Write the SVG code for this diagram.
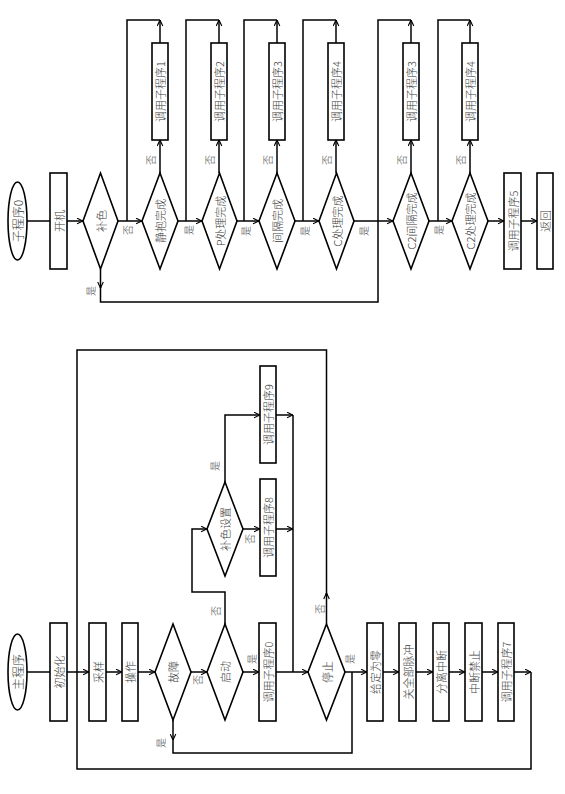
<svg xmlns="http://www.w3.org/2000/svg" width="565" height="794" viewBox="0 0 565 794">
<style>
.s{fill:#fff;stroke:#000;stroke-width:1.6}
.c{fill:none;stroke:#000;stroke-width:1.5}
.t{font-family:"Noto Sans CJK SC","Liberation Serif",sans-serif;font-size:11px;font-weight:300;fill:#3a3a3a;text-anchor:middle;dominant-baseline:central}
.e{font-size:12px}
.l{font-size:10px}
</style>
<defs>
<marker id="a" viewBox="0 0 10 10" refX="9.5" refY="5" markerWidth="7" markerHeight="7" markerUnits="userSpaceOnUse" orient="auto"><path d="M1,1 L9.5,5 L1,9" fill="none" stroke="#000" stroke-width="1.6"/></marker>
</defs>
<rect width="565" height="794" fill="#fff"/>

<g id="connectors">
<path class="c" d="M27,221 H50"/>
<path class="c" d="M67,221 H83" marker-end="url(#a)"/>
<path class="c" d="M118,221 H142" marker-end="url(#a)"/>
<path class="c" d="M178,221 H202" marker-end="url(#a)"/>
<path class="c" d="M237,221 H259" marker-end="url(#a)"/>
<path class="c" d="M295,221 H319" marker-end="url(#a)"/>
<path class="c" d="M354,221 H393" marker-end="url(#a)"/>
<path class="c" d="M429,221 H452" marker-end="url(#a)"/>
<path class="c" d="M488,221 H504" marker-end="url(#a)"/>
<path class="c" d="M521,221 H537" marker-end="url(#a)"/>
<path class="c" d="M160,173 V140" marker-end="url(#a)"/>
<path class="c" d="M160,43 V20" marker-end="url(#a)"/>
<path class="c" d="M127,221 V20 H160"/>
<path class="c" d="M219,173 V140" marker-end="url(#a)"/>
<path class="c" d="M219,43 V20" marker-end="url(#a)"/>
<path class="c" d="M186,221 V20 H219"/>
<path class="c" d="M277,173 V140" marker-end="url(#a)"/>
<path class="c" d="M277,43 V20" marker-end="url(#a)"/>
<path class="c" d="M244,221 V20 H277"/>
<path class="c" d="M336,173 V140" marker-end="url(#a)"/>
<path class="c" d="M336,43 V20" marker-end="url(#a)"/>
<path class="c" d="M303,221 V20 H336"/>
<path class="c" d="M411,173 V140" marker-end="url(#a)"/>
<path class="c" d="M411,43 V20" marker-end="url(#a)"/>
<path class="c" d="M470,173 V140" marker-end="url(#a)"/>
<path class="c" d="M470,43 V20" marker-end="url(#a)"/>
<path class="c" d="M438,221 V20 H470"/>
<path class="c" d="M100.5,269 V288" marker-end="url(#a)"/>
<path class="c" d="M100.5,287 V302 H378 V20 H411"/>
<path class="c" d="M27,672 H50"/>
<path class="c" d="M67,672 H89" marker-end="url(#a)"/>
<path class="c" d="M106,672 H122" marker-end="url(#a)"/>
<path class="c" d="M138,672 H155" marker-end="url(#a)"/>
<path class="c" d="M191,672 H207" marker-end="url(#a)"/>
<path class="c" d="M243,672 H259" marker-end="url(#a)"/>
<path class="c" d="M276,672 H308" marker-end="url(#a)"/>
<path class="c" d="M345,672 H367" marker-end="url(#a)"/>
<path class="c" d="M383,672 H399" marker-end="url(#a)"/>
<path class="c" d="M416,672 H433" marker-end="url(#a)"/>
<path class="c" d="M449,672 H465" marker-end="url(#a)"/>
<path class="c" d="M482,672 H498" marker-end="url(#a)"/>
<path class="c" d="M514,672 H531" marker-end="url(#a)"/>
<path class="c" d="M326.5,624 V593" marker-end="url(#a)"/>
<path class="c" d="M326.5,596 V350 H77 V769 H531 V672"/>
<path class="c" d="M173,720 V740" marker-end="url(#a)"/>
<path class="c" d="M173,738 V753 H352 V672"/>
<path class="c" d="M225,624 V592 H192 V529 H207" marker-end="url(#a)"/>
<path class="c" d="M225,482 V415 H260" marker-end="url(#a)"/>
<path class="c" d="M243,529 H260" marker-end="url(#a)"/>
<path class="c" d="M276,415 H293" marker-end="url(#a)"/>
<path class="c" d="M276,529 H293" marker-end="url(#a)"/>
<path class="c" d="M293,415 V672"/>
</g>

<g id="labels">
<text class="t l" transform="translate(90,291) rotate(-90)">是</text>
<text class="t l" transform="translate(127,230) rotate(-90)">否</text>
<text class="t l" transform="translate(188,230) rotate(-90)">是</text>
<text class="t l" transform="translate(245,231) rotate(-90)">是</text>
<text class="t l" transform="translate(304,231) rotate(-90)">是</text>
<text class="t l" transform="translate(363,231) rotate(-90)">是</text>
<text class="t l" transform="translate(438,230) rotate(-90)">是</text>
<text class="t l" transform="translate(150,160) rotate(-90)">否</text>
<text class="t l" transform="translate(209,160) rotate(-90)">否</text>
<text class="t l" transform="translate(267,160) rotate(-90)">否</text>
<text class="t l" transform="translate(326,160) rotate(-90)">否</text>
<text class="t l" transform="translate(401,160) rotate(-90)">否</text>
<text class="t l" transform="translate(460,160) rotate(-90)">否</text>
<text class="t l" transform="translate(160,743) rotate(-90)">是</text>
<text class="t l" transform="translate(197,680) rotate(-90)">否</text>
<text class="t l" transform="translate(215,611) rotate(-90)">否</text>
<text class="t l" transform="translate(251,659) rotate(-90)">是</text>
<text class="t l" transform="translate(319,609) rotate(-90)">否</text>
<text class="t l" transform="translate(349,659) rotate(-90)">是</text>
<text class="t l" transform="translate(214,466) rotate(-90)">是</text>
<text class="t l" transform="translate(249,539) rotate(-90)">否</text>
</g>

<g id="sub0"><ellipse class="s" cx="17.5" cy="221" rx="9.5" ry="39"/><text class="t e" transform="translate(17.5,221) rotate(-90)">子程序0</text></g>
<g id="kaiji"><rect class="s" x="50" y="173" width="17" height="96"/><text class="t" transform="translate(58.5,221) rotate(-90)">开机</text></g>
<g id="buse"><polygon class="s" points="100.5,173 118,221 100.5,269 83,221"/><text class="t" transform="translate(100.5,221) rotate(-90)">补色</text></g>
<g id="jingbao"><polygon class="s" points="160,173 178,221 160,269 142,221"/><text class="t" transform="translate(160,221) rotate(-90)">静抱完成</text></g>
<g id="pchuli"><polygon class="s" points="219.5,173 237,221 219.5,269 202,221"/><text class="t" transform="translate(219.5,221) rotate(-90)">P处理完成</text></g>
<g id="jiange"><polygon class="s" points="277,173 295,221 277,269 259,221"/><text class="t" transform="translate(277,221) rotate(-90)">间隔完成</text></g>
<g id="cchuli"><polygon class="s" points="336.5,173 354,221 336.5,269 319,221"/><text class="t" transform="translate(336.5,221) rotate(-90)">C处理完成</text></g>
<g id="c2jiange"><polygon class="s" points="411,173 429,221 411,269 393,221"/><text class="t" transform="translate(411,221) rotate(-90)">C2间隔完成</text></g>
<g id="c2chuli"><polygon class="s" points="470,173 488,221 470,269 452,221"/><text class="t" transform="translate(470,221) rotate(-90)">C2处理完成</text></g>
<g id="call1"><rect class="s" x="152" y="43" width="16" height="97"/><text class="t" transform="translate(160,91.5) rotate(-90)">调用子程序1</text></g>
<g id="call2"><rect class="s" x="211" y="43" width="16" height="97"/><text class="t" transform="translate(219,91.5) rotate(-90)">调用子程序2</text></g>
<g id="call3"><rect class="s" x="269" y="43" width="16" height="97"/><text class="t" transform="translate(277,91.5) rotate(-90)">调用子程序3</text></g>
<g id="call4"><rect class="s" x="328" y="43" width="16" height="97"/><text class="t" transform="translate(336,91.5) rotate(-90)">调用子程序4</text></g>
<g id="call3b"><rect class="s" x="403" y="43" width="16" height="97"/><text class="t" transform="translate(411,91.5) rotate(-90)">调用子程序3</text></g>
<g id="call4b"><rect class="s" x="462" y="43" width="16" height="97"/><text class="t" transform="translate(470,91.5) rotate(-90)">调用子程序4</text></g>
<g id="call5"><rect class="s" x="504" y="173" width="17" height="96"/><text class="t" transform="translate(512.5,221) rotate(-90)">调用子程序5</text></g>
<g id="fanhui"><rect class="s" x="537" y="173" width="16" height="96"/><text class="t" transform="translate(545,221) rotate(-90)">返回</text></g>

<g id="main"><ellipse class="s" cx="17.5" cy="672" rx="9.5" ry="38"/><text class="t e" transform="translate(17.5,672) rotate(-90)">主程序</text></g>
<g id="init"><rect class="s" x="50" y="623" width="17" height="98"/><text class="t" transform="translate(58.5,672) rotate(-90)">初始化</text></g>
<g id="caiyang"><rect class="s" x="89" y="623" width="17" height="98"/><text class="t" transform="translate(97.5,672) rotate(-90)">采样</text></g>
<g id="caozuo"><rect class="s" x="122" y="623" width="16" height="98"/><text class="t" transform="translate(130,672) rotate(-90)">操作</text></g>
<g id="guzhang"><polygon class="s" points="173,624 191,672 173,720 155,672"/><text class="t" transform="translate(173,672) rotate(-90)">故障</text></g>
<g id="qidong"><polygon class="s" points="225,624 243,672 225,720 207,672"/><text class="t" transform="translate(225,672) rotate(-90)">启动</text></g>
<g id="call0"><rect class="s" x="259" y="623" width="17" height="98"/><text class="t" transform="translate(267.5,672) rotate(-90)">调用子程序0</text></g>
<g id="tingzhi"><polygon class="s" points="326.5,624 345,672 326.5,720 308,672"/><text class="t" transform="translate(326.5,672) rotate(-90)">停止</text></g>
<g id="geiding"><rect class="s" x="367" y="623" width="16" height="98"/><text class="t" transform="translate(375,672) rotate(-90)">给定为零</text></g>
<g id="guanmaichong"><rect class="s" x="399" y="623" width="17" height="98"/><text class="t" transform="translate(407.5,672) rotate(-90)">关全部脉冲</text></g>
<g id="fenli"><rect class="s" x="433" y="623" width="16" height="98"/><text class="t" transform="translate(441,672) rotate(-90)">分离中断</text></g>
<g id="jinzhi"><rect class="s" x="465" y="623" width="17" height="98"/><text class="t" transform="translate(473.5,672) rotate(-90)">中断禁止</text></g>
<g id="call7"><rect class="s" x="498" y="623" width="16" height="98"/><text class="t" transform="translate(506,672) rotate(-90)">调用子程序7</text></g>
<g id="busesz"><polygon class="s" points="225,482 243,529 225,576 207,529"/><text class="t" transform="translate(225,529) rotate(-90)">补色设置</text></g>
<g id="call8"><rect class="s" x="260" y="479" width="16" height="97"/><text class="t" transform="translate(268,527.5) rotate(-90)">调用子程序8</text></g>
<g id="call9"><rect class="s" x="260" y="366" width="16" height="97"/><text class="t" transform="translate(268,414.5) rotate(-90)">调用子程序9</text></g>
</svg>
